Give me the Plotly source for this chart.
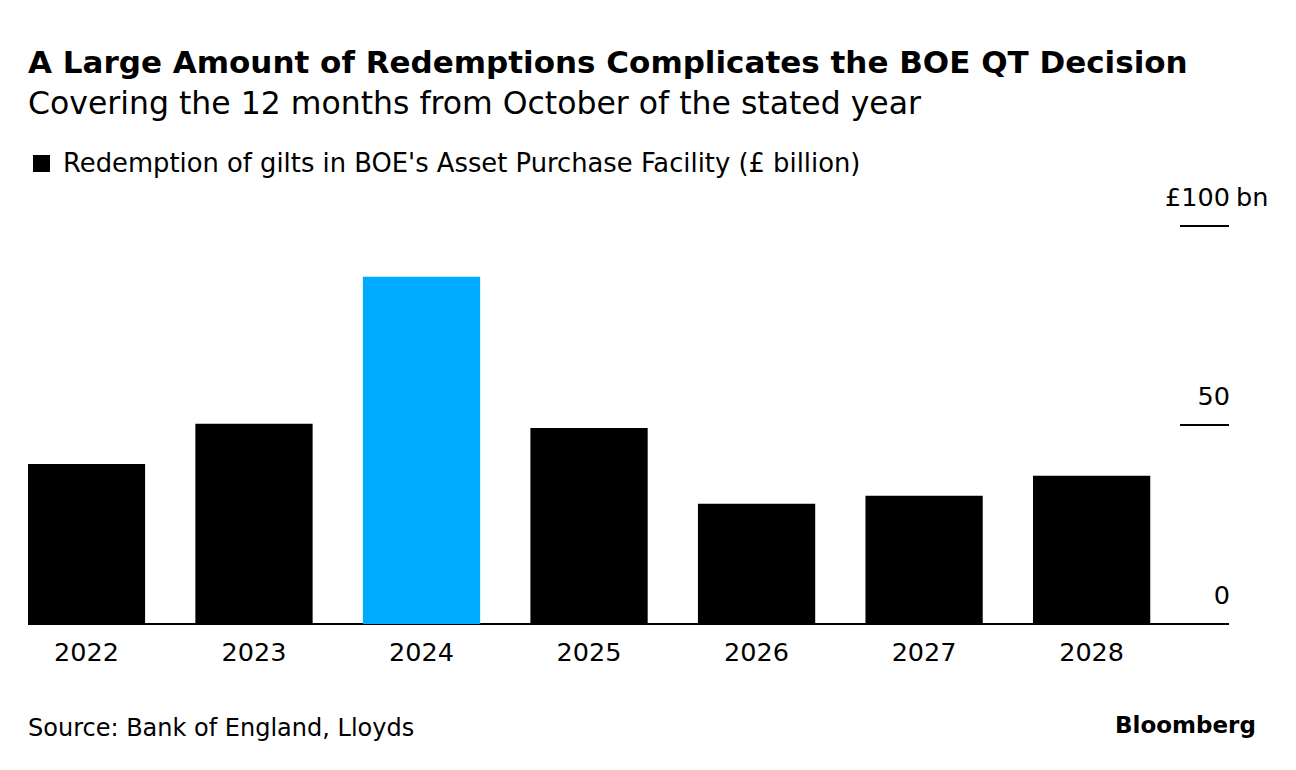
import plotly.graph_objects as go

years = ["2022", "2023", "2024", "2025", "2026", "2027", "2028"]
redemptions = [40.2, 50.3, 87.2, 49.2, 30.2, 32.2, 37.2]
highlight_year = "2024"
y_tick_vals = [0, 50, 100]
y_tick_text = ["0", "50", "£100"]

BLACK = "#000000"
BLUE = "#00AAFF"
FONT = "DejaVu Sans"

# reference-pixel -> paper helpers (plot area: x 28..1229, y 178..624)
def px(x):
    return (x - 28) / 1201.0

def py(y):
    return (624 - y) / 446.0

colors = [BLUE if y == highlight_year else BLACK for y in years]

fig = go.Figure()
fig.add_trace(go.Bar(
    x=years, y=redemptions, marker=dict(color=colors, line=dict(width=0)),
    name="Redemption of gilts in BOE's Asset Purchase Facility (£ billion)",
    showlegend=False, hoverinfo="x+y",
))

fig.update_layout(
    width=1296, height=770,
    paper_bgcolor="white", plot_bgcolor="white",
    margin=dict(l=20, r=75, t=170, b=154, pad=0),
    bargap=0.30,
    font=dict(family=FONT, color=BLACK, size=22),
    xaxis=dict(
        type="category", range=[-0.349, 6.82],
        showgrid=False, showline=False, ticks="",
        tickfont=dict(size=25.5, family=FONT, color=BLACK), ticklabelstandoff=10,
    ),
    yaxis=dict(
        range=[0, 112], side="right",
        tickvals=y_tick_vals, ticktext=y_tick_text,
        ticklabelposition="inside top", ticklabelshift=-10, ticklabelstandoff=-4,
        ticks="inside", ticklen=49, tickwidth=2, tickcolor=BLACK,
        showgrid=False, showline=False,
        zeroline=True, zerolinecolor=BLACK, zerolinewidth=2,
        tickfont=dict(size=25.5, family=FONT, color=BLACK),
    ),
)

# unit suffix next to top tick label
fig.add_annotation(x=px(1234), xref="paper", xanchor="left", y=py(197), yref="paper",
                   yanchor="middle", text="bn", showarrow=False,
                   font=dict(size=25.5, family=FONT))

# Title & subtitle
fig.add_annotation(x=px(26), xref="paper", xanchor="left", y=py(62), yref="paper",
                   yanchor="middle",
                   text="<b>A Large Amount of Redemptions Complicates the BOE QT Decision</b>",
                   showarrow=False, font=dict(size=31, family=FONT))
fig.add_annotation(x=px(26), xref="paper", xanchor="left", y=py(103), yref="paper",
                   yanchor="middle",
                   text="Covering the 12 months from October of the stated year",
                   showarrow=False, font=dict(size=31.5, family=FONT))

# Legend
fig.add_shape(type="rect", xref="paper", yref="paper", x0=px(33), x1=px(50),
              y0=py(172), y1=py(155), fillcolor=BLACK, line=dict(width=0))
fig.add_annotation(x=px(61), xref="paper", xanchor="left", y=py(163), yref="paper",
                   yanchor="middle",
                   text="Redemption of gilts in BOE's Asset Purchase Facility (£ billion)",
                   showarrow=False, font=dict(size=25.8, family=FONT))

# Source & logo
fig.add_annotation(x=px(26), xref="paper", xanchor="left", y=py(728), yref="paper",
                   yanchor="middle", text="Source: Bank of England, Lloyds",
                   showarrow=False, font=dict(size=24, family=FONT))
fig.add_annotation(x=px(1258), xref="paper", xanchor="right", y=py(725), yref="paper",
                   yanchor="middle", text="<b>Bloomberg</b>",
                   showarrow=False, font=dict(size=23, family=FONT))

fig.write_html("out.html")
